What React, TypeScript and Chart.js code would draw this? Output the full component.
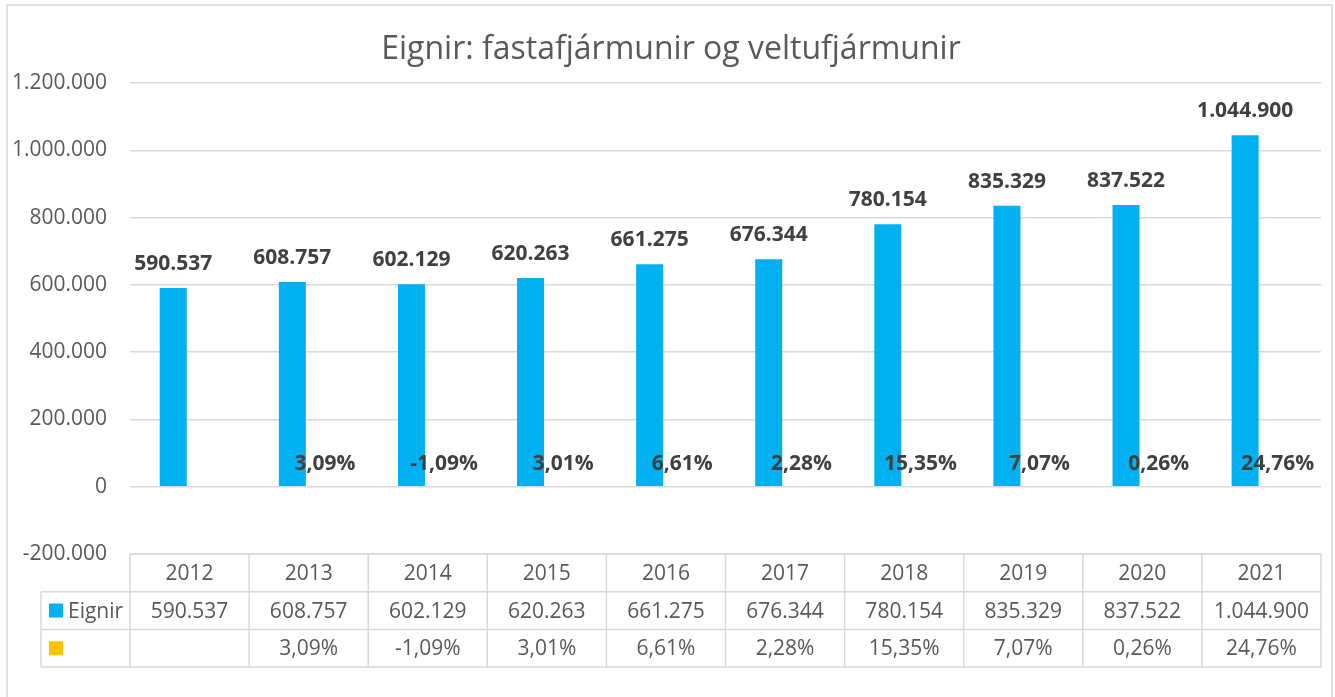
import React, { useEffect, useRef } from "react";
import { Chart, registerables } from "chart.js";

Chart.register(...registerables);

const chartTitle = "Eignir: fastafjármunir og veltufjármunir";
const years = ["2012", "2013", "2014", "2015", "2016", "2017", "2018", "2019", "2020", "2021"];
const eignir = [590537, 608757, 602129, 620263, 661275, 676344, 780154, 835329, 837522, 1044900];
const changePct: (number | null)[] = [null, 3.09, -1.09, 3.01, 6.61, 2.28, 15.35, 7.07, 0.26, 24.76];
const seriesName = "Eignir";
const yMin = -200000;
const yMax = 1200000;
const yStep = 200000;

const FONT = "'Open Sans', 'Liberation Sans', sans-serif";
const TEXT = "#595959";
const LABEL = "#404040";
const LINE = "#D9D9D9";
const BLUE = "#00B0F0";
const ORANGE = "#FFC000";

function fmtThousands(v: number): string {
  const s = Math.abs(Math.round(v)).toString().replace(/\B(?=(\d{3})+(?!\d))/g, ".");
  return (v < 0 ? "-" : "") + s;
}
function fmtPct(v: number): string {
  return v.toFixed(2).replace(".", ",") + "%";
}

const excelPlugin = {
  id: "excelLook",
  beforeDraw(chart: any) {
    const { ctx, width, height } = chart;
    ctx.save();
    ctx.fillStyle = "#ffffff";
    ctx.fillRect(0, 0, width, height);
    ctx.strokeStyle = LINE;
    ctx.lineWidth = 1.5;
    ctx.strokeRect(7, 5, 1325, height + 20);
    ctx.fillStyle = TEXT;
    ctx.font = `32px ${FONT}`;
    ctx.textAlign = "center";
    ctx.textBaseline = "middle";
    ctx.fillText(chartTitle, 671, 50);
    ctx.restore();
  },
  afterDatasetsDraw(chart: any) {
    const { ctx } = chart;
    ctx.save();
    ctx.font = `bold 21px ${FONT}`;
    ctx.fillStyle = LABEL;
    ctx.textAlign = "center";
    ctx.textBaseline = "alphabetic";
    const m0 = chart.getDatasetMeta(0);
    m0.data.forEach((el: any, i: number) => {
      ctx.fillText(fmtThousands(eignir[i]), el.x, el.y - 18);
    });
    const m1 = chart.getDatasetMeta(1);
    const y0 = chart.scales.y.getPixelForValue(0);
    m1.data.forEach((el: any, i: number) => {
      const v = changePct[i];
      if (v == null) return;
      ctx.fillText(fmtPct(v), el.x, y0 - 17);
    });
    ctx.restore();
  },
  afterDraw(chart: any) {
    const { ctx, chartArea } = chart;
    const xs = chart.scales.x;
    const n = years.length;
    const cw = (chartArea.right - chartArea.left) / n;
    const top = chartArea.bottom;
    const rh = 37.7;
    const legendLeft = 41;
    ctx.save();
    ctx.strokeStyle = LINE;
    ctx.lineWidth = 1.5;
    const hl = (y: number, x1: number, x2: number) => {
      ctx.beginPath();
      ctx.moveTo(x1, y);
      ctx.lineTo(x2, y);
      ctx.stroke();
    };
    const vl = (x: number, y1: number, y2: number) => {
      ctx.beginPath();
      ctx.moveTo(x, y1);
      ctx.lineTo(x, y2);
      ctx.stroke();
    };
    hl(top, chartArea.left, chartArea.right);
    hl(top + rh, legendLeft, chartArea.right);
    hl(top + 2 * rh, legendLeft, chartArea.right);
    hl(top + 3 * rh, legendLeft, chartArea.right);
    vl(legendLeft, top + rh, top + 3 * rh);
    for (let i = 0; i <= n; i++) {
      const x = chartArea.left + i * cw;
      vl(x, top, top + 3 * rh);
    }
    ctx.fillStyle = TEXT;
    ctx.font = `21px ${FONT}`;
    ctx.textAlign = "center";
    ctx.textBaseline = "middle";
    for (let i = 0; i < n; i++) {
      const cx = xs.getPixelForTick(i);
      ctx.fillText(years[i], cx, top + rh / 2 + 1);
      ctx.fillText(fmtThousands(eignir[i]), cx, top + rh * 1.5 + 1);
      const v = changePct[i];
      if (v != null) ctx.fillText(fmtPct(v), cx, top + rh * 2.5 + 1);
    }
    ctx.fillStyle = BLUE;
    ctx.fillRect(49, top + rh * 1.5 - 7, 14, 14);
    ctx.fillStyle = ORANGE;
    ctx.fillRect(49, top + rh * 2.5 - 7, 14, 14);
    ctx.fillStyle = TEXT;
    ctx.textAlign = "left";
    ctx.fillText(seriesName, 68, top + rh * 1.5 + 1);
    ctx.restore();
  },
};

export default function App() {
  const ref = useRef<HTMLCanvasElement | null>(null);
  useEffect(() => {
    if (!ref.current) return;
    Chart.defaults.font.family = FONT;
    const chart = new Chart(ref.current, {
      type: "bar",
      data: {
        labels: years,
        datasets: [
          {
            label: seriesName,
            data: eignir,
            backgroundColor: BLUE,
            borderWidth: 0,
            categoryPercentage: 0.548,
            barPercentage: 0.828,
          },
          {
            label: "",
            data: changePct.map((v) => (v == null ? null : v / 100)),
            backgroundColor: "rgba(255,192,0,0)",
            borderWidth: 0,
            categoryPercentage: 0.548,
            barPercentage: 0.828,
          },
        ],
      },
      options: {
        animation: false,
        responsive: false,
        devicePixelRatio: 1,
        layout: { padding: { left: 0, top: 83, right: 14, bottom: 143 } },
        plugins: {
          legend: { display: false },
          title: { display: false },
          tooltip: { enabled: false },
        },
        scales: {
          x: { display: false },
          y: {
            min: yMin,
            max: yMax,
            border: { display: false },
            grid: { color: LINE, lineWidth: 1.5, drawTicks: false },
            ticks: {
              stepSize: yStep,
              padding: 23,
              color: TEXT,
              font: { size: 21, family: FONT },
              callback: (v: any) => fmtThousands(Number(v)),
            },
            afterFit: (scale: any) => {
              scale.width = 130;
            },
          },
        },
      },
      plugins: [excelPlugin],
    });
    return () => chart.destroy();
  }, []);
  return (
    <div style={{ position: "absolute", left: 0, top: 0, width: 1335, height: 697, background: "#fff" }}>
      <canvas ref={ref} width={1335} height={697} />
    </div>
  );
}
